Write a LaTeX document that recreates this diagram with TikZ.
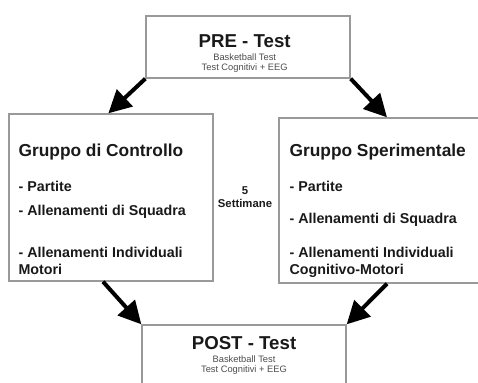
\documentclass[tikz,border=0pt]{standalone}
\usepackage{fontspec}
\setmainfont{Liberation Sans}
\usetikzlibrary{arrows.meta,positioning}

\tikzset{
  box/.style={draw=black!40, line width=1pt, inner sep=0pt},
  testname/.style={font=\fontsize{14}{16}\selectfont\bfseries, text=black!90, inner sep=0pt},
  grouphead/.style={font=\fontsize{13}{15}\selectfont\bfseries, text=black!90, inner sep=0pt},
  entry/.style={font=\fontsize{10.7}{12.8}\selectfont\bfseries, text=black!90, inner sep=0pt},
  subtext/.style={font=\fontsize{7}{8}\selectfont, text=black!70, inner sep=0pt},
  weeks/.style={font=\fontsize{8.5}{10}\selectfont\bfseries, text=black!90, inner sep=0pt, anchor=base},
  flow/.style={-{Triangle[length=17pt,width=17pt]}, line width=3pt, draw=black}
}

\begin{document}
\begin{tikzpicture}[x=0.75pt, y=-0.75pt]
    \useasboundingbox (0,0) rectangle (478,382);

    % boxes
    \node(pre)  [box, minimum width=153pt, minimum height=46.5pt]   at (248,47)    {};
    \node(ctrl) [box, minimum width=153pt, minimum height=125.25pt] at (111,197.5) {};
    \node(sper) [box, minimum width=162pt, minimum height=123.75pt] at (387,200.5) {};
    \node(post) [box, minimum width=153pt, minimum height=56.25pt]  at (244,362.5) {};

    % pre test
    \node(pretitle) [testname, below=24pt of pre.north, anchor=base, xshift=-2.5pt] {PRE - Test};
    \node(pre1) [subtext, below=9.75pt of pretitle.base, anchor=base] {Basketball Test};
    \node(pre2) [subtext, below=7.5pt of pre1.base, anchor=base]      {Test Cognitivi + EEG};

    % gruppo di controllo
    \node(ctrltitle) [grouphead, below right=32.25pt and 7.5pt of ctrl.north west, anchor=base west] {Gruppo di Controllo};
    \node(ctrl1) [entry, below=26.25pt of ctrltitle.base west, anchor=base west] {- Partite};
    \node(ctrl2) [entry, below=18pt of ctrl1.base west, anchor=base west]        {- Allenamenti di Squadra};
    \node(ctrl3) [entry, below=31.5pt of ctrl2.base west, anchor=base west]      {- Allenamenti Individuali};
    \node(ctrl4) [entry, below=12.75pt of ctrl3.base west, anchor=base west]     {Motori};

    % gruppo sperimentale
    \node(spertitle) [grouphead, below right=29.25pt and 8.25pt of sper.north west, anchor=base west] {Gruppo Sperimentale};
    \node(sper1) [entry, below=26.25pt of spertitle.base west, anchor=base west] {- Partite};
    \node(sper2) [entry, below=24pt of sper1.base west, anchor=base west]        {- Allenamenti di Squadra};
    \node(sper3) [entry, below=25.5pt of sper2.base west, anchor=base west]      {- Allenamenti Individuali};
    \node(sper4) [entry, below=12.75pt of sper3.base west, anchor=base west]     {Cognitivo-Motori};

    % durata
    \node(weeksnum)  [weeks] at (245,194) {5};
    \node(weekslbl)  [weeks, below=9.75pt of weeksnum.base, anchor=base] {Settimane};

    % post test
    \node(posttitle) [testname, below=18.75pt of post.north, anchor=base] {POST - Test};
    \node(post1) [subtext, below=9.5pt of posttitle.base, anchor=base] {Basketball Test};
    \node(post2) [subtext, below=7.5pt of post1.base, anchor=base]     {Test Cognitivi + EEG};

    % arrows
    \draw [flow] (pre.south west) to ([xshift=-2pt]ctrl.north);
    \draw [flow] (pre.south east) to (sper.north);
    \draw [flow] ([xshift=-6pt]ctrl.south) to (post.north west);
    \draw [flow] (sper.south) to (post.north east);
\end{tikzpicture}
\end{document}
